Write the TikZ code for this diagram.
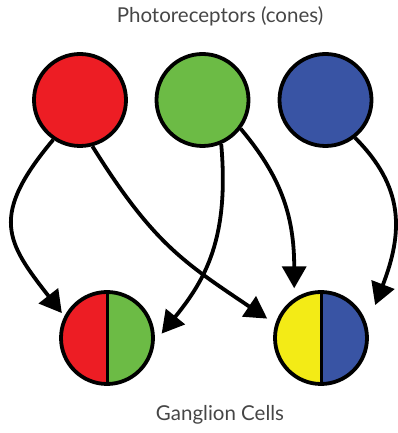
\documentclass[tikz,border=0pt]{standalone}
\usepackage{fontspec}
\setmainfont{Lato}
\usetikzlibrary{arrows.meta}
\definecolor{cred}{RGB}{237,29,36}
\definecolor{cgreen}{RGB}{108,187,69}
\definecolor{cblue}{RGB}{57,84,164}
\definecolor{cyellow}{RGB}{243,235,22}
\definecolor{textgray}{RGB}{70,70,70}
\begin{document}
\begin{tikzpicture}[x=1pt,y=1pt,
  cone/.style={circle,draw=black,line width=3.8pt,minimum size=92pt,inner sep=0pt},
  halves/.style 2 args={cone,path picture={
      \fill[#1] (path picture bounding box.south west) rectangle (path picture bounding box.north);
      \fill[#2] (path picture bounding box.south) rectangle (path picture bounding box.north east);
      \draw[line width=3pt] (path picture bounding box.north) -- (path picture bounding box.south);}},
  conn/.style={line width=3.8pt,-{Triangle[length=22pt,width=24pt]}},
  lbl/.style={text=textgray,font=\fontsize{20.5}{22}\selectfont}]
\useasboundingbox (0,0) rectangle (397,433);
\node[lbl] (title) at (220,417) {Photoreceptors (cones)};
\node[lbl] (gc) at (220,18) {Ganglion Cells};
\node[cone,fill=cred] (red) at (80,333) {};
\node[cone,fill=cgreen] (green) at (202.5,333) {};
\node[cone,fill=cblue] (blue) at (325.5,333) {};
\node[halves={cred}{cgreen}] (lg) at (107,95) {};
\node[halves={cyellow}{cblue}] (rg) at (321,95) {};
\draw[conn,shorten >=4pt] (red.-124) .. controls +(-130:100) and +(128:94) .. (lg.153);
\draw[conn,shorten >=9.6pt] (red.-75) .. controls +(-58:115) and +(146:110) .. (rg.163);
\draw[conn,shorten >=11pt] (green.-67) .. controls +(-85:95) and +(51:80) .. (lg.-5);
\draw[conn,shorten >=10pt] (green.-37) .. controls +(-50:60) and +(90:85) .. (rg.124);
\draw[conn,shorten >=22pt] (blue.-52) .. controls +(-45:70) and +(69:100) .. (rg.15);
\end{tikzpicture}
\end{document}
